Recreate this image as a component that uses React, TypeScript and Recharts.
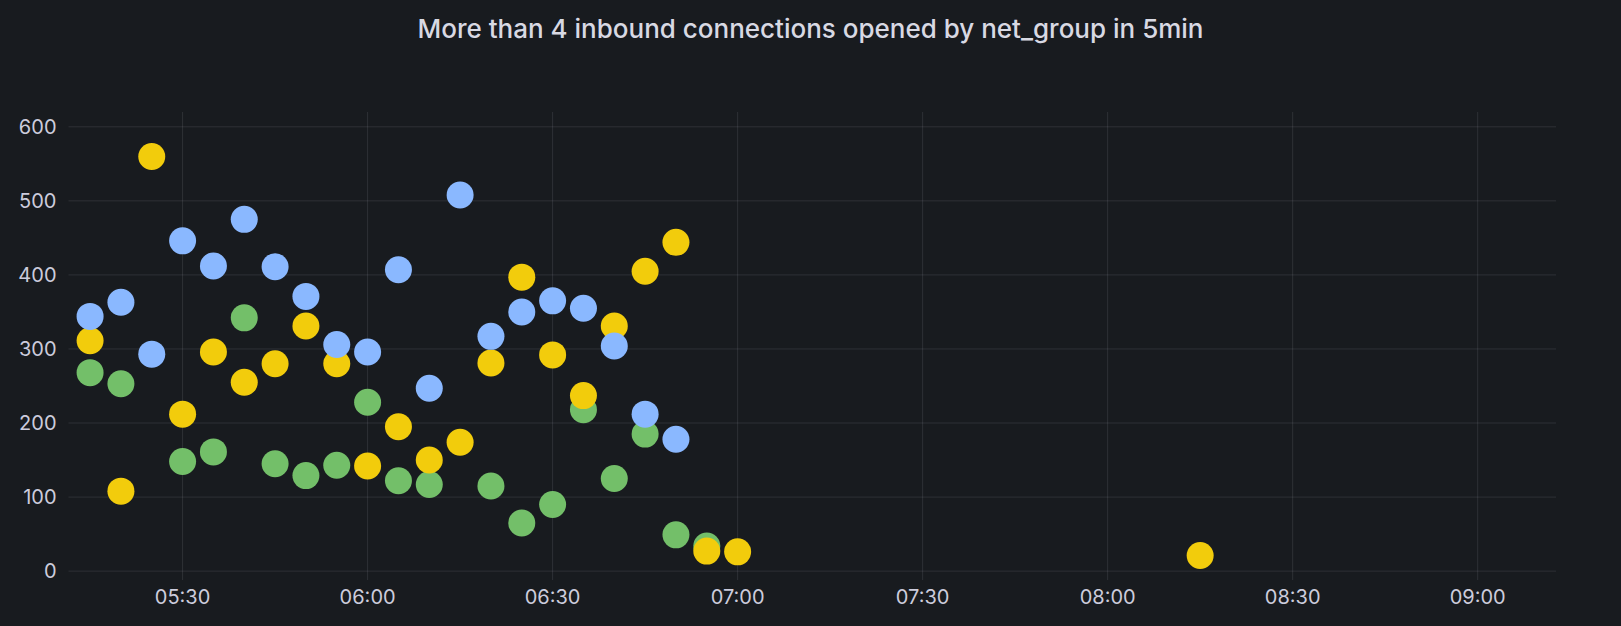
import React from 'react';
import { ScatterChart, Scatter, XAxis, YAxis, CartesianGrid } from 'recharts';

const TITLE = 'More than 4 inbound connections opened by net_group in 5min';

// 5-minute buckets
const times = [
  '05:15', '05:20', '05:25', '05:30', '05:35', '05:40', '05:45', '05:50', '05:55', '06:00',
  '06:05', '06:10', '06:15', '06:20', '06:25', '06:30', '06:35', '06:40', '06:45', '06:50',
  '06:55', '07:00', '08:15',
];

const greenValues = [
  268, 253, null, 148, 161, 342, 145, 129, 143, 228,
  122, 117, null, 115, 65, 90, 218, 125, 185, 49,
  34, null, null,
];
const yellowValues = [
  311, 108, 560, 212, 296, 255, 280, 331, 280, 142,
  195, 150, 174, 281, 397, 292, 237, 331, 405, 444,
  27, 26, 21,
];
const blueValues = [
  344, 363, 293, 446, 412, 475, 411, 371, 306, 296,
  407, 247, 508, 317, 350, 365, 355, 304, 212, 178,
  null, null, null,
];

const xTicks = ['05:30', '06:00', '06:30', '07:00', '07:30', '08:00', '08:30', '09:00'];
const yTicks = [0, 100, 200, 300, 400, 500, 600];

const toMin = (t: string) => {
  const [h, m] = t.split(':').map(Number);
  return h * 60 + m;
};
const fmt = (v: number) => {
  const h = Math.floor(v / 60);
  const m = v % 60;
  return `${String(h).padStart(2, '0')}:${String(m).padStart(2, '0')}`;
};

const toPoints = (values: (number | null)[]) =>
  times
    .map((t, i) => ({ x: toMin(t), y: values[i] }))
    .filter((p) => p.y !== null);

const dot = (color: string) => (props: any) =>
  <circle cx={props.cx} cy={props.cy} r={13.5} fill={color} />;

const BG = '#181b1f';
const TEXT = '#ccccdc';
const FONT = 'Inter, "Noto Sans", sans-serif';

export default function App() {
  return (
    <div style={{ position: 'absolute', left: 0, top: 0, width: 1621, height: 626, background: BG, fontFamily: FONT }}>
      <div style={{ position: 'absolute', top: 13, left: 0, width: 1621, textAlign: 'center', color: '#d8d9e3', fontSize: 26, fontWeight: 500 }}>
        {TITLE}
      </div>
      <ScatterChart width={1621} height={626} margin={{ top: 112, right: 65, bottom: 0, left: 0 }}>
        <CartesianGrid stroke="rgba(204,204,220,0.12)" syncWithTicks />
        <XAxis
          type="number"
          dataKey="x"
          domain={[311.5, 552.7]}
          ticks={xTicks.map(toMin)}
          tickFormatter={fmt}
          axisLine={false}
          tickLine={false}
          tickSize={0}
          tickMargin={10}
          height={46}
          allowDataOverflow
          tick={{ fill: TEXT, fontSize: 20, fontFamily: FONT }}
        />
        <YAxis
          type="number"
          dataKey="y"
          domain={[-12, 620]}
          ticks={yTicks}
          axisLine={false}
          tickLine={false}
          tickSize={0}
          tickMargin={12}
          width={68.5}
          allowDataOverflow
          tick={{ fill: TEXT, fontSize: 20, fontFamily: FONT }}
        />
        <Scatter data={toPoints(greenValues)} fill="#73bf69" shape={dot('#73bf69')} isAnimationActive={false} />
        <Scatter data={toPoints(yellowValues)} fill="#f2cc0c" shape={dot('#f2cc0c')} isAnimationActive={false} />
        <Scatter data={toPoints(blueValues)} fill="#8ab8ff" shape={dot('#8ab8ff')} isAnimationActive={false} />
      </ScatterChart>
    </div>
  );
}
